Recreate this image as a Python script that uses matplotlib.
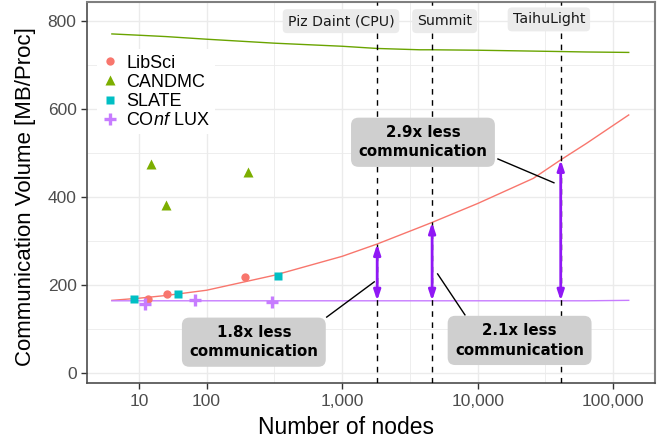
import numpy as np
import matplotlib
matplotlib.use('Agg')
import matplotlib.pyplot as plt
from matplotlib.ticker import FixedLocator, NullLocator

# Measured points (nodes, MB/proc)
libsci_nodes = [37, 51, 192]
libsci_vol = [168, 179, 217]
candmc_nodes = [39, 50, 202]
candmc_vol = [475, 382, 457]
slate_nodes = [29, 61, 334]
slate_vol = [168, 179, 220]
conflux_nodes = [35, 82, 302]
conflux_vol = [156, 166, 161]

# Fitted model curves
fit_nodes = [20, 32, 50, 100, 316, 1000, 1813, 3743, 4608, 10000, 25700, 40960, 63100, 130000]
candmc_fit = [770, 767, 764, 758, 749, 742, 737, 734, 734, 733, 731, 730, 729, 728]
libsci_fit = [165, 170, 176, 188, 222, 265, 293, 331, 342, 385, 442, 484, 521, 586]
conflux_fit = [164, 164, 164, 164, 164, 164, 164, 164, 164, 164, 164, 164, 164, 165]

# Machines
machines = ['Piz Daint (CPU)', 'Summit', 'TaihuLight']
machine_nodes = [1813, 4608, 40960]
machine_label_x = [980, 5700, 33500]
machine_label_y = [799, 799, 803]
arrow_top = [293, 342, 484]
arrow_bottom = [164, 164, 164]

# Savings annotations
notes = ['1.8x less\ncommunication', '2.1x less\ncommunication', '2.9x less\ncommunication']
note_x = [223, 20370, 3945]
note_y = [70, 74, 524]
lead_from = [(769, 127), (8050, 132), (14100, 486)]
lead_to = [(1725, 207), (5060, 225), (36500, 432)]

tick_pos = [10 ** 1.5, 1e2, 1e3, 1e4, 1e5]
tick_labels = ['10', '100', '1,000', '10,000', '100,000']

plt.rcParams['font.family'] = ['Liberation Sans', 'DejaVu Sans']
plt.rcParams['mathtext.fontset'] = 'custom'
plt.rcParams['mathtext.it'] = 'Liberation Sans:italic'
plt.rcParams['mathtext.rm'] = 'Liberation Sans'

fig = plt.figure(figsize=(6.69, 4.45), dpi=100)
ax = fig.add_axes([0.130, 0.139, 0.849, 0.857])
ax.set_xscale('log')
ax.set_xlim(13.1, 203000)
ax.set_ylim(-23, 843)

# grid
for v in range(0, 900, 100):
    ax.axhline(v, color='#ebebeb', lw=1.0 if v % 200 == 0 else 0.6, zorder=0)
for e in np.arange(1.5, 5.6, 0.5):
    ax.axvline(10 ** e, color='#ebebeb', lw=1.0 if e == int(e) or e == 1.5 else 0.6, zorder=0)

ax.plot(fit_nodes, candmc_fit, color='#6aa400', lw=1.0, zorder=2)
ax.plot(fit_nodes, libsci_fit, color='#F8766D', lw=1.0, zorder=2)
ax.plot(fit_nodes, conflux_fit, color='#C77CFF', lw=1.0, zorder=2)

for x in machine_nodes:
    ax.axvline(x, color='black', lw=1.0, ls=(0, (4, 4)), zorder=3)

ax.plot(libsci_nodes, libsci_vol, 'o', color='#F8766D', ms=6, mec='none', label='LibSci', zorder=4)
ax.plot(candmc_nodes, candmc_vol, '^', color='#7CAE00', ms=7, mec='none', label='CANDMC', zorder=4)
ax.plot(slate_nodes, slate_vol, 's', color='#00BFC4', ms=6.3, mec='none', label='SLATE', zorder=4)
ax.plot(conflux_nodes, conflux_vol, '+', color='#C77CFF', ms=9, mew=2.4, label=r'CO$\it{nf}$ LUX', zorder=4)

for x, lo, hi in zip(machine_nodes, arrow_bottom, arrow_top):
    ax.annotate('', xy=(x, hi), xytext=(x, lo),
                arrowprops=dict(arrowstyle='<|-|>,head_length=0.6,head_width=0.2',
                                color='#9018F5', lw=2.0, shrinkA=0, shrinkB=0), zorder=5)

for name, x, y in zip(machines, machine_label_x, machine_label_y):
    ax.text(x, y, name, family='DejaVu Sans', fontsize=10.2, color='#1a1a1a',
            ha='center', va='center', zorder=6,
            bbox=dict(boxstyle='round,pad=0.35,rounding_size=0.3', fc='#ebebeb', ec='none'))

for txt, x, y, a, b in zip(notes, note_x, note_y, lead_from, lead_to):
    ax.plot([a[0], b[0]], [a[1], b[1]], color='black', lw=1.0, zorder=5)
    ax.text(x, y, txt, family='DejaVu Sans', fontweight='bold', fontsize=10.8,
            ha='center', va='center', linespacing=1.35, zorder=6,
            bbox=dict(boxstyle='round,pad=0.5,rounding_size=0.5', fc='#cfcfcf', ec='none'))

ax.xaxis.set_major_locator(FixedLocator(tick_pos))
ax.xaxis.set_minor_locator(NullLocator())
ax.set_xticklabels(tick_labels)
ax.set_yticks([0, 200, 400, 600, 800])
ax.tick_params(axis='both', labelsize=12.5, labelcolor='#4d4d4d', color='#333333',
               length=4, width=1.0)

for s in ['top', 'right']:
    ax.spines[s].set_color('#7f7f7f')
    ax.spines[s].set_linewidth(1.5)
for s in ['left', 'bottom']:
    ax.spines[s].set_color('#4d4d4d')
    ax.spines[s].set_linewidth(1.2)

fig.text(346 / 669, 1 - 427 / 445, 'Number of nodes', fontsize=16.5,
         ha='center', va='center')
fig.text(26 / 669, 1 - 197 / 445, 'Communication Volume [MB/Proc]', fontsize=16,
         ha='center', va='center', rotation=90)

leg = ax.legend(loc='upper left', bbox_to_anchor=(0.009, 0.89), fontsize=13,
                frameon=True, facecolor='white', edgecolor='none', framealpha=1,
                handlelength=0.8, handletextpad=0.5, labelspacing=0.12,
                borderpad=0.3, borderaxespad=0.3)
leg.set_zorder(7)

fig.savefig('out.png', dpi=100)
